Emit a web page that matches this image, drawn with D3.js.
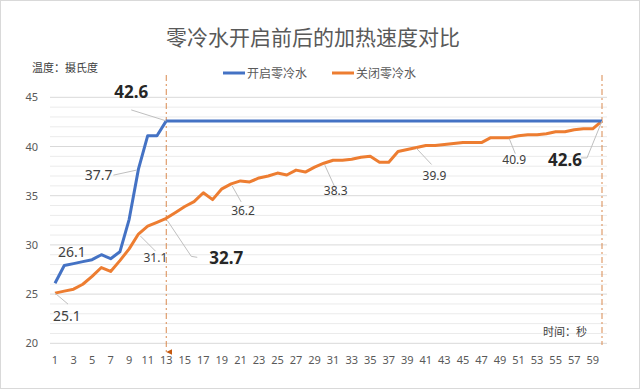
<!DOCTYPE html>
<html>
<head>
<meta charset="utf-8">
<script src="https://cdn.jsdelivr.net/npm/d3@7"></script>
<style>
  html, body { margin: 0; padding: 0; background: #fff; }
  svg { display: block; font-family: "Noto Sans", "Noto Sans CJK SC", sans-serif; }
  .tick-label { font-size: 11px; fill: #595959; }
</style>
</head>
<body>
<div id="chart"></div>
<script>
const seconds = [
  1, 2, 3, 4, 5, 6, 7, 8, 9, 10, 11, 12, 13, 14, 15, 16, 17, 18, 19, 20,
  21, 22, 23, 24, 25, 26, 27, 28, 29, 30, 31, 32, 33, 34, 35, 36, 37, 38, 39, 40,
  41, 42, 43, 44, 45, 46, 47, 48, 49, 50, 51, 52, 53, 54, 55, 56, 57, 58, 59, 60
];

// 开启零冷水
const onTemps = [
  26.1, 27.9, 28.1, 28.3, 28.5, 29.0, 28.6, 29.3, 32.6, 37.7, 41.1, 41.1, 42.6, 42.6, 42.6, 42.6, 42.6, 42.6, 42.6, 42.6,
  42.6, 42.6, 42.6, 42.6, 42.6, 42.6, 42.6, 42.6, 42.6, 42.6, 42.6, 42.6, 42.6, 42.6, 42.6, 42.6, 42.6, 42.6, 42.6, 42.6,
  42.6, 42.6, 42.6, 42.6, 42.6, 42.6, 42.6, 42.6, 42.6, 42.6, 42.6, 42.6, 42.6, 42.6, 42.6, 42.6, 42.6, 42.6, 42.6, 42.6
];

// 关闭零冷水
const offTemps = [
  25.1, 25.3, 25.5, 26.0, 26.8, 27.7, 27.3, 28.4, 29.6, 31.1, 31.9, 32.3, 32.7, 33.3, 33.9, 34.4, 35.3, 34.6, 35.7, 36.2,
  36.5, 36.4, 36.8, 37.0, 37.3, 37.1, 37.6, 37.4, 37.9, 38.3, 38.6, 38.6, 38.7, 38.9, 39.0, 38.4, 38.4, 39.5, 39.7, 39.9,
  40.1, 40.1, 40.2, 40.3, 40.4, 40.4, 40.4, 40.9, 40.9, 40.9, 41.1, 41.2, 41.2, 41.3, 41.5, 41.5, 41.7, 41.8, 41.8, 42.6
];

const yTicks = [20, 25, 30, 35, 40, 45];
const yMinor = [21, 22, 23, 24, 26, 27, 28, 29, 31, 32, 33, 34, 36, 37, 38, 39, 41, 42, 43, 44];
const xTickLabels = [1, 3, 5, 7, 9, 11, 13, 15, 17, 19, 21, 23, 25, 27, 29, 31, 33, 35, 37, 39, 41, 43, 45, 47, 49, 51, 53, 55, 57, 59];

const seriesNames = ["开启零冷水", "关闭零冷水"];
const markSeconds = [13, 60];

const blue = "#4472C4";
const orange = "#ED7D31";

const width = 640;
const height = 389;

const svg = d3.select("#chart")
  .append("svg")
  .attr("width", width)
  .attr("height", height);

svg.append("rect")
  .attr("x", 0.5).attr("y", 0.5)
  .attr("width", width - 1).attr("height", height - 1)
  .attr("fill", "#fff")
  .attr("stroke", "#d9d9d9");

const x = d3.scalePoint()
  .domain(seconds)
  .range([55, 602]);

const y = d3.scaleLinear()
  .domain([20, 45])
  .range([343.3, 97.3]);

const plotLeft = 50;
const plotRight = 607;

// minor grid
svg.append("g")
  .selectAll("line")
  .data(yMinor)
  .join("line")
  .attr("x1", plotLeft).attr("x2", plotRight)
  .attr("y1", d => y(d)).attr("y2", d => y(d))
  .attr("stroke", "#ebebeb")
  .attr("stroke-width", 1);

// major grid
svg.append("g")
  .selectAll("line")
  .data(yTicks)
  .join("line")
  .attr("x1", plotLeft).attr("x2", plotRight)
  .attr("y1", d => y(d)).attr("y2", d => y(d))
  .attr("stroke", "#d9d9d9")
  .attr("stroke-width", 1);

// y tick labels
svg.append("g")
  .selectAll("text")
  .data(yTicks)
  .join("text")
  .attr("class", "tick-label")
  .attr("x", 38)
  .attr("y", d => y(d) + 4)
  .attr("text-anchor", "end")
  .text(d => d);

// x tick labels
svg.append("g")
  .selectAll("text")
  .data(xTickLabels)
  .join("text")
  .attr("class", "tick-label")
  .attr("x", d => x(d))
  .attr("y", 364)
  .attr("text-anchor", "middle")
  .text(d => d);

// title
svg.append("text")
  .attr("x", 313)
  .attr("y", 45)
  .attr("text-anchor", "middle")
  .style("font-family", "'Noto Sans CJK SC', sans-serif")
  .style("font-size", "21px")
  .attr("fill", "#595959")
  .text("零冷水开启前后的加热速度对比");

// axis titles
svg.append("text")
  .attr("x", 32).attr("y", 72)
  .style("font-family", "'Noto Sans CJK SC', sans-serif")
  .style("font-size", "11px")
  .attr("fill", "#404040")
  .text("温度：摄氏度");

svg.append("text")
  .attr("x", 543).attr("y", 336)
  .style("font-family", "'Noto Sans CJK SC', sans-serif")
  .style("font-size", "11px")
  .attr("fill", "#404040")
  .text("时间：秒");

// legend
const legend = svg.append("g");
[[223, blue], [332, orange]].forEach(([lx, c], i) => {
  legend.append("line")
    .attr("x1", lx).attr("x2", lx + 22)
    .attr("y1", 73).attr("y2", 73)
    .attr("stroke", c).attr("stroke-width", 3);
  legend.append("text")
    .attr("x", lx + 24).attr("y", 77.5)
    .style("font-family", "'Noto Sans CJK SC', sans-serif")
    .style("font-size", "12px")
    .attr("fill", "#595959")
    .text(seriesNames[i]);
});

// dashed marker lines
svg.append("defs").append("marker")
  .attr("id", "arrow")
  .attr("viewBox", "0 0 10 10")
  .attr("refX", 5).attr("refY", 10)
  .attr("markerWidth", 6).attr("markerHeight", 6)
  .attr("markerUnits", "userSpaceOnUse")
  .attr("orient", "auto-start-reverse")
  .append("path")
  .attr("d", "M0,0L10,0L5,10Z")
  .attr("fill", "#C55A11");

svg.append("g")
  .selectAll("line")
  .data(markSeconds)
  .join("line")
  .attr("x1", d => x(d)).attr("x2", d => x(d))
  .attr("y1", 75)
  .attr("y2", (d, i) => i === 0 ? 352 : 345)
  .attr("stroke", "#D9894F")
  .attr("stroke-width", 1)
  .attr("stroke-dasharray", "6,3,2,3")
  .attr("marker-end", (d, i) => i === 0 ? "url(#arrow)" : null);

// series lines
const line = d3.line()
  .x((d, i) => x(seconds[i]))
  .y(d => y(d));

svg.append("path")
  .datum(offTemps)
  .attr("fill", "none")
  .attr("stroke", orange)
  .attr("stroke-width", 3)
  .attr("stroke-linejoin", "round")
  .attr("d", line);

svg.append("path")
  .datum(onTemps)
  .attr("fill", "none")
  .attr("stroke", blue)
  .attr("stroke-width", 3)
  .attr("stroke-linejoin", "round")
  .attr("d", line);

// data labels: offsets relative to the labelled point
const labels = [
  { s: onTemps, sec: 13, size: 17, bold: true, anchor: "middle", lx: -35, ly: -23, path: [[-35, -11], [0, 0]] },
  { s: onTemps, sec: 10, size: 14, bold: false, anchor: "end", lx: -26, ly: 11, path: [[-25, 6], [-2, 1]] },
  { s: onTemps, sec: 1, size: 14, bold: false, anchor: "start", lx: 3, ly: -26, path: null },
  { s: offTemps, sec: 1, size: 14, bold: false, anchor: "start", lx: -2, ly: 28, path: [[0, 0], [13, 11]] },
  { s: offTemps, sec: 10, size: 12, bold: false, anchor: "start", lx: 5, ly: 28, path: [[2, 2], [17, 17]] },
  { s: offTemps, sec: 13, size: 17, bold: true, anchor: "start", lx: 43, ly: 46, path: [[1, 2], [25, 38], [31, 39]] },
  { s: offTemps, sec: 20, size: 12, bold: false, anchor: "start", lx: 0, ly: 31, path: [[1, 2], [10, 18]] },
  { s: offTemps, sec: 30, size: 12, bold: false, anchor: "start", lx: 0, ly: 32, path: [[1, 2], [11, 24]] },
  { s: offTemps, sec: 40, size: 12, bold: false, anchor: "start", lx: 6, ly: 33, path: [[0, 1], [15, 17]] },
  { s: offTemps, sec: 50, size: 12, bold: false, anchor: "start", lx: -7, ly: 26, path: [[0, 1], [6, 16]] },
  { s: offTemps, sec: 60, size: 17, bold: true, anchor: "start", lx: -54, ly: 45, path: [[0, 0], [-15, 37], [-21, 37]] }
];

const annot = svg.append("g");
labels.forEach(a => {
  const px = x(a.sec);
  const py = y(a.s[seconds.indexOf(a.sec)]);
  if (a.path) {
    annot.append("path")
      .attr("d", d3.line()(a.path.map(p => [px + p[0], py + p[1]])))
      .attr("fill", "none")
      .attr("stroke", "#bfbfbf")
      .attr("stroke-width", 1);
  }
  annot.append("text")
    .attr("x", px + a.lx)
    .attr("y", py + a.ly)
    .attr("text-anchor", a.anchor)
    .style("font-size", a.size + "px")
    .style("font-weight", a.bold ? "bold" : "normal")
    .attr("fill", a.bold ? "#262626" : "#404040")
    .text(a.s[seconds.indexOf(a.sec)].toFixed(1));
});
</script>
</body>
</html>
